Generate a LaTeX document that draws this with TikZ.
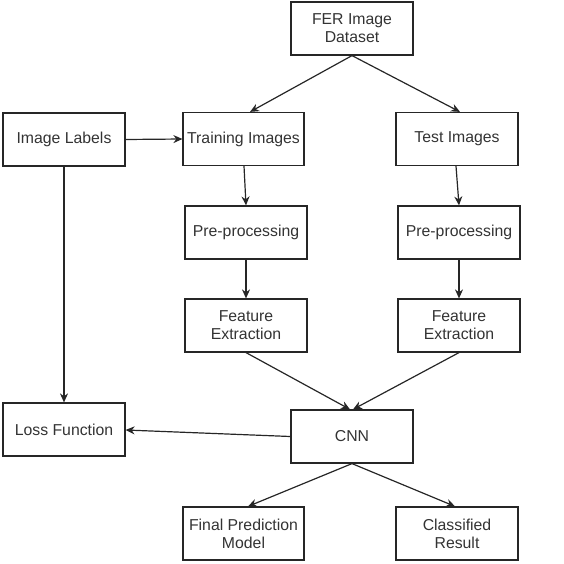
\documentclass[tikz,border=0pt]{standalone}
\usepackage{fontspec}
\setmainfont{Liberation Sans}
\usetikzlibrary{arrows.meta}
\begin{document}
\begin{tikzpicture}[x=1pt,y=-1pt,
  box/.style={draw=black!85, line width=1.2pt, minimum width=#1, minimum height=53pt, inner sep=0pt, align=center, font=\fontsize{15.8}{18}\selectfont, text=black!80},
  box/.default=122pt,
  arr/.style={draw=black!85, line width=1.2pt, -{Stealth[length=9pt,width=8pt]}}]
\useasboundingbox (0,0) rectangle (563,564);
\node[box] (fer) at (352,28.5) {FER Image\\Dataset};
\node[box] (lab) at (64,139.5) {Image Labels};
\node[box=121pt] (tr) at (243.5,139) {Training Images};
\node[box] (te) at (457,139) {Test Images};
\node[box] (pl) at (246,232.5) {Pre-processing};
\node[box] (pr) at (459,232.5) {Pre-processing};
\node[box] (fl) at (246,325.5) {Feature\\Extraction};
\node[box] (fr) at (459,325.5) {Feature\\Extraction};
\node[box] (loss) at (64,429.5) {Loss Function};
\node[box] (cnn) at (352,436.5) {CNN};
\node[box=121pt] (fin) at (243.5,533.5) {Final Prediction\\Model};
\node[box] (cls) at (457,533.5) {Classified\\Result};
\draw[arr] (fer.south) -- (tr.north -| 250,0);
\draw[arr] (fer.south) -- (te.north -| 460,0);
\draw[arr] (lab.east) -- (tr.west);
\draw[arr] (tr.south -| 244,0) -- (pl.north);
\draw[arr] (te.south -| 456,0) -- (pr.north);
\draw[arr] (pl) -- (fl);
\draw[arr] (pr) -- (fr);
\draw[arr] (fl.south) -- (cnn.north -| 350,0);
\draw[arr] (fr.south) -- (cnn.north -| 353,0);
\draw[arr] (lab) -- (loss);
\draw[arr] (cnn.west) -- (loss.east |- 0,430);
\draw[arr] (cnn.south) -- (fin.north -| 248,0);
\draw[arr] (cnn.south) -- (cls.north -| 455,0);
\end{tikzpicture}
\end{document}
